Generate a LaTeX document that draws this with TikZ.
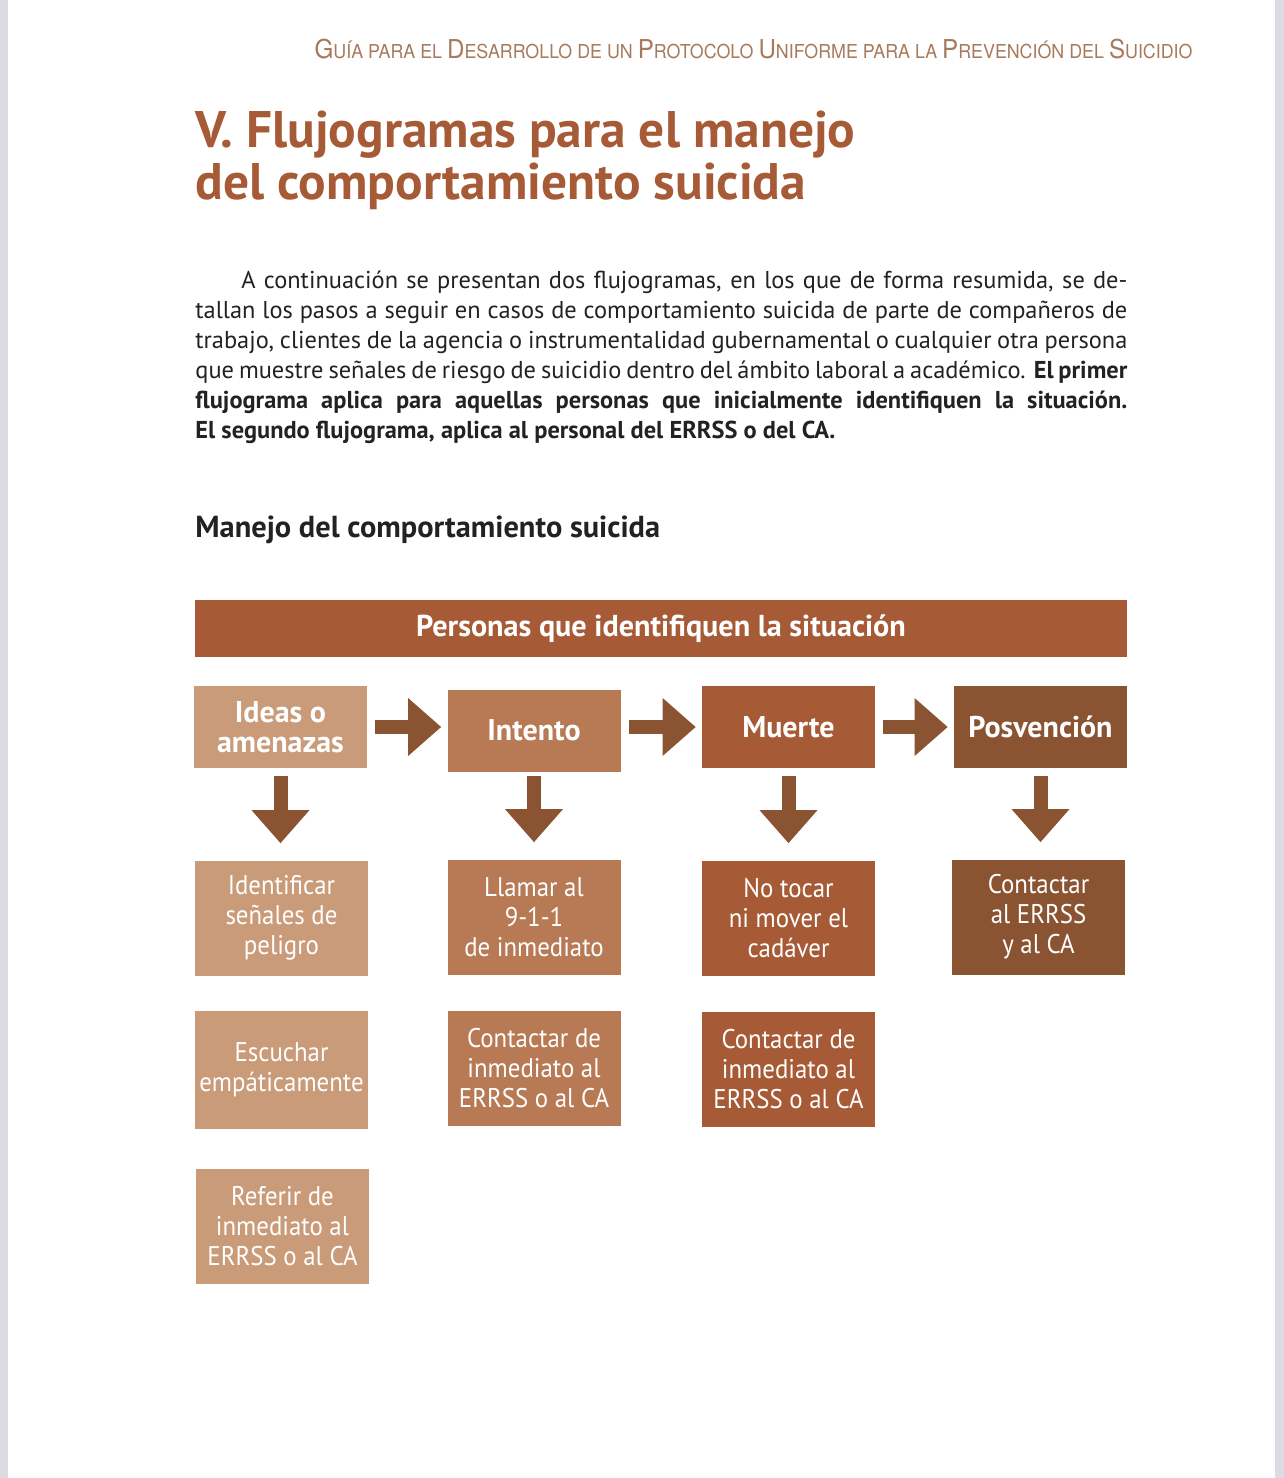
\documentclass[tikz,border=0pt]{standalone}
\usepackage{fontspec}
\setmainfont{PT Sans}
\newfontfamily\cabecera[FakeStretch=0.93]{TeX Gyre Heros}
\newfontfamily\estrecha[FakeStretch=0.92]{PT Sans}
\usetikzlibrary{arrows.meta}

\definecolor{tono1}{HTML}{C99B79}
\definecolor{tono2}{HTML}{B77A55}
\definecolor{tono3}{HTML}{A65B36}
\definecolor{tono4}{HTML}{8A5433}
\definecolor{guia}{HTML}{A77A5C}
\definecolor{texto}{HTML}{222222}
\definecolor{borde}{HTML}{DCDBE1}

\newcommand{\may}[1]{{\fontsize{13}{15}\selectfont #1}}
\newcommand{\renglon}[1]{\makebox[466pt][s]{#1}}

\tikzset{
  caja/.style={minimum width=86.5pt, inner sep=1pt, align=center, text=white},
  etapa/.style={caja, minimum height=41pt, font=\bfseries\fontsize{15}{15}\selectfont},
  paso/.style={caja, minimum height=57.5pt, font=\estrecha\fontsize{13.5}{15}\selectfont},
  flecha/.style={draw=tono4, line width=7pt,
    -{Triangle[width=29pt,length=16.5pt,line width=0pt]}},
}

\begin{document}
\begin{tikzpicture}[x=0.5pt,y=-0.5pt]
\fill[white] (0,0) rectangle (1284,1478);
\useasboundingbox (0,0) rectangle (1284,1478);
\fill[borde] (0,0) rectangle (8,1478);
\fill[borde] (1275,0) rectangle (1284,1478);

\node[anchor=base east, inner sep=0pt, text=guia, font=\cabecera\fontsize{9.6}{12}\selectfont] (guia) at (1193,58)
  {\may{G}UÍA PARA EL \may{D}ESARROLLO DE UN \may{P}ROTOCOLO \may{U}NIFORME PARA LA \may{P}REVENCIÓN DEL \may{S}UICIDIO};

\node[anchor=north west, inner sep=0pt, align=left, text=tono3, font=\bfseries\fontsize{25.7}{26}\selectfont] (titulo) at (195,111)
  {V. Flujogramas para el manejo\\del comportamiento suicida};

\node[anchor=north west, inner sep=0pt, align=left, text=texto, font=\fontsize{12.2}{15}\selectfont] (intro) at (195,271)
  {\renglon{\hspace*{23pt}A continuación se presentan dos flujogramas, en los que de forma resumida, se de-}\\
   \renglon{tallan los pasos a seguir en casos de comportamiento suicida de parte de compañeros de}\\
   \renglon{trabajo, clientes de la agencia o instrumentalidad gubernamental o cualquier otra persona}\\
   \renglon{que muestre señales de riesgo de suicidio dentro del ámbito laboral a académico. \textbf{El primer}}\\
   \renglon{\textbf{flujograma aplica para aquellas personas que inicialmente identifiquen la situación.}}\\
   \textbf{El segundo flujograma, aplica al personal del ERRSS o del CA.}};

\node[anchor=base west, inner sep=0pt, text=texto, font=\bfseries\fontsize{15.2}{17}\selectfont] (manejo) at (195,537)
  {Manejo del comportamiento suicida};

\node[fill=tono3, minimum width=466pt, minimum height=28.5pt, text=white, font=\bfseries\fontsize{15.1}{16}\selectfont] (barra) at (661,628.5)
  {Personas que identifiquen la situación};

\node[etapa, fill=tono1] (ideas) at (280.5,727) {Ideas o\\amenazas};
\node[etapa, fill=tono2] (intento) at (534,730.5) {Intento};
\node[etapa, fill=tono3] (muerte) at (788.5,727) {Muerte};
\node[etapa, fill=tono4] (posv) at (1040.5,726.5) {Posvención};

\node[paso, fill=tono1] (identificar) at (281.5,918) {Identificar\\señales de\\peligro};
\node[paso, fill=tono2] (llamar) at (534,917) {Llamar al\\9-1-1\\de inmediato};
\node[paso, fill=tono3] (notocar) at (788.5,918) {No tocar\\ni mover el\\cadáver};
\node[paso, fill=tono4] (avisar) at (1038.5,917) {Contactar\\al ERRSS\\y al CA};

\node[paso, fill=tono1, minimum height=59pt] (escuchar) at (281.5,1070) {Escuchar\\empáticamente};
\node[paso, fill=tono2] (contactarA) at (534,1068.5) {Contactar de\\inmediato al\\ERRSS o al CA};
\node[paso, fill=tono3] (contactarB) at (788.5,1069) {Contactar de\\inmediato al\\ERRSS o al CA};

\node[paso, fill=tono1] (referir) at (282.5,1226) {Referir de\\inmediato al\\ERRSS o al CA};

\draw[flecha, shorten <=4pt, shorten >=3pt] (ideas.east) -- (ideas.east -| intento.west);
\draw[flecha, shorten <=4pt, shorten >=3pt] (intento.east |- ideas.east) -- (ideas.east -| muerte.west);
\draw[flecha, shorten <=4pt, shorten >=3pt] (muerte.east) -- (muerte.east -| posv.west);

\draw[flecha, shorten <=4pt, shorten >=8.5pt] (ideas.south) -- (ideas.south |- identificar.north);
\draw[flecha, shorten <=2pt, shorten >=8.5pt] (intento.south) -- (intento.south |- llamar.north);
\draw[flecha, shorten <=4pt, shorten >=8.5pt] (muerte.south) -- (muerte.south |- notocar.north);
\draw[flecha, shorten <=4pt, shorten >=8.5pt] (posv.south) -- (posv.south |- avisar.north);
\end{tikzpicture}
\end{document}
